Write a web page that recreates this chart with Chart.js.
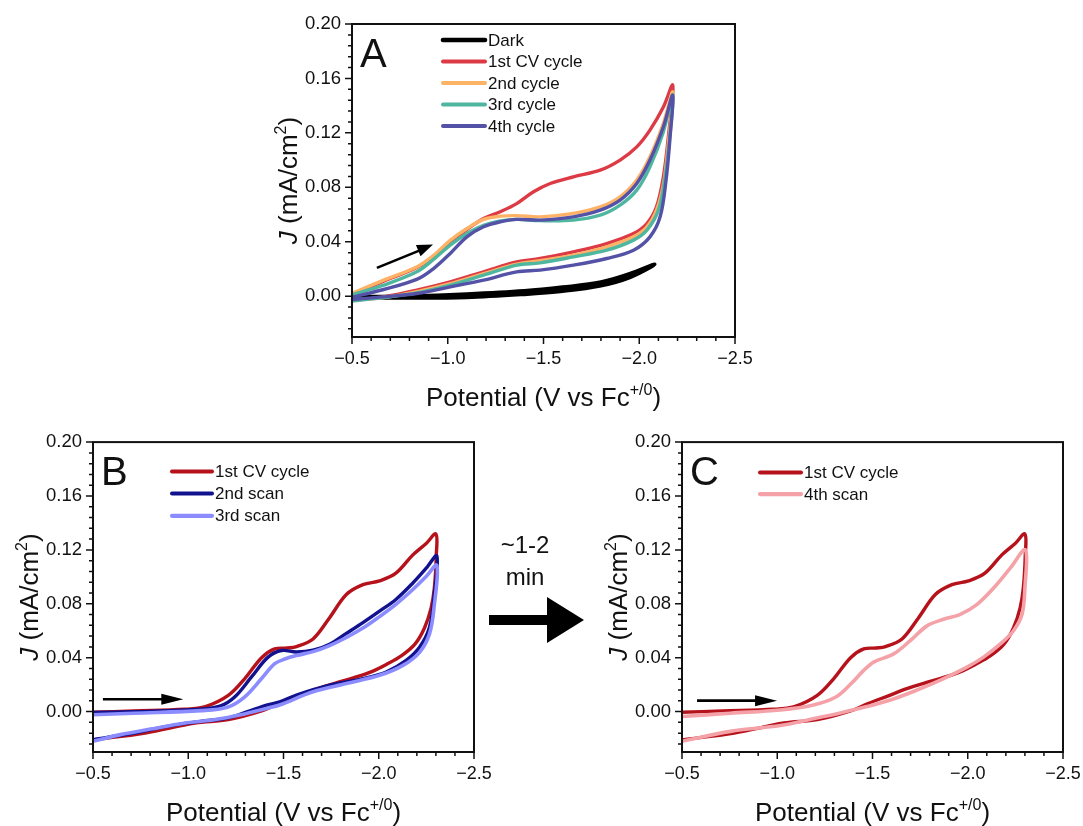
<!DOCTYPE html>
<html>
<head>
<meta charset="utf-8">
<script src="https://cdn.jsdelivr.net/npm/chart.js@4.4.1/dist/chart.umd.min.js"></script>
<style>
  body { margin: 0; background: #fff; width: 1083px; height: 826px; position: relative; overflow: hidden;
         font-family: "Liberation Sans", Arial, sans-serif; }
  canvas { position: absolute; }
  #note { position: absolute; left: 470px; top: 529px; width: 110px; text-align: center;
          font-size: 24px; line-height: 32px; color: #111; }
  #bigArrow { position: absolute; left: 0; top: 0; }
</style>
</head>
<body>
<canvas id="chartA" width="517" height="420" style="left:250px;top:0"></canvas>
<canvas id="chartB" width="506" height="406" style="left:0;top:420px"></canvas>
<canvas id="chartC" width="505" height="406" style="left:590px;top:420px"></canvas>
<div id="note">~1-2<br>min</div>
<svg id="bigArrow" width="1083" height="826"><polygon points="489,615 547,615 547,597 584,620 547,643 547,625 489,625" fill="#000"/></svg>

<script>
// ticks shared by the three panels
const xTicks = [-0.5, -1.0, -1.5, -2.0, -2.5];
const yTicks = [0.00, 0.04, 0.08, 0.12, 0.16, 0.20];

// ---- Panel A ----
const aDarkV = [-0.5, -0.8, -1.1, -1.4, -1.6, -1.8, -1.95, -2.08, -1.95, -1.8, -1.6, -1.4, -1.1, -0.8, -0.5];
const aDarkJ = [-0.0008, -0.0012, -0.0008, 0.0015, 0.0038, 0.0078, 0.0138, 0.0233, 0.0163, 0.0102, 0.0065, 0.0038, 0.0015, 0.0, -0.0006];

const aCyc1V = [-0.5, -0.665, -0.838, -0.926, -1.013, -1.1, -1.187, -1.274, -1.36, -1.448, -1.535, -1.656, -1.796, -1.9, -1.987, -2.056, -2.126, -2.175,
                -2.152, -2.126, -2.09, -2.04, -1.97, -1.83, -1.656, -1.4825, -1.36, -1.187, -1.013, -0.838, -0.665, -0.5];
const aCyc1J = [0.0015, 0.011, 0.021, 0.0295, 0.040, 0.049, 0.057, 0.062, 0.068, 0.0767, 0.0828, 0.0877, 0.0926, 0.100, 0.1097, 0.122, 0.139, 0.155,
                0.117, 0.0877, 0.0656, 0.0534, 0.046, 0.0387, 0.0326, 0.0277, 0.0252, 0.0179, 0.0105, 0.0044, -0.0005, -0.003];

const aCyc2V = [-0.5, -0.665, -0.838, -0.926, -1.013, -1.1, -1.187, -1.274, -1.36, -1.4825, -1.656, -1.796, -1.9, -1.987, -2.056, -2.126, -2.175,
                -2.152, -2.126, -2.09, -2.04, -1.97, -1.83, -1.656, -1.4825, -1.36, -1.187, -1.013, -0.838, -0.665, -0.5];
const aCyc2J = [0.002, 0.0118, 0.0215, 0.030, 0.041, 0.0497, 0.0564, 0.0588, 0.0592, 0.0583, 0.0608, 0.0656, 0.073, 0.0853, 0.1024, 0.127, 0.150,
                0.112, 0.082, 0.0632, 0.0509, 0.0436, 0.0363, 0.0301, 0.026, 0.0235, 0.0165, 0.0092, 0.0034, -0.001, -0.003];

const aCyc3V = [-0.5, -0.665, -0.838, -0.926, -1.013, -1.1, -1.187, -1.274, -1.36, -1.4825, -1.656, -1.796, -1.9, -1.987, -2.056, -2.126, -2.175,
                -2.161, -2.135, -2.1, -2.04, -1.97, -1.83, -1.656, -1.4825, -1.36, -1.187, -1.013, -0.838, -0.665, -0.5];
const aCyc3J = [0.001, 0.0081, 0.0179, 0.027, 0.0375, 0.046, 0.052, 0.0553, 0.0564, 0.0555, 0.0559, 0.0595, 0.0669, 0.0779, 0.095, 0.1208, 0.148,
                0.1195, 0.0877, 0.0632, 0.0485, 0.0412, 0.0338, 0.0289, 0.0245, 0.0228, 0.0154, 0.0081, 0.0024, -0.001, -0.0035];

const aCyc4V = [-0.5, -0.665, -0.838, -0.926, -1.013, -1.1, -1.187, -1.274, -1.36, -1.4825, -1.656, -1.796, -1.9, -1.987, -2.056, -2.126, -2.175,
                -2.161, -2.14, -2.109, -2.056, -1.97, -1.83, -1.656, -1.4825, -1.36, -1.187, -1.013, -0.838, -0.665, -0.5];
const aCyc4J = [-0.0008, 0.0049, 0.0123, 0.0203, 0.0314, 0.0436, 0.051, 0.0546, 0.0564, 0.0559, 0.0583, 0.0632, 0.0706, 0.0828, 0.100, 0.1245, 0.1477,
                0.117, 0.0853, 0.0583, 0.0436, 0.0338, 0.0277, 0.0228, 0.0191, 0.0179, 0.0118, 0.0068, 0.002, -0.0005, -0.0024];

// ---- Panels B and C (1st CV cycle is the same scan in both) ----
const firstV = [-0.5, -0.714, -0.98, -1.09, -1.21, -1.297, -1.385, -1.454, -1.52, -1.568, -1.655, -1.742, -1.83, -1.917, -2.004, -2.09, -2.179, -2.249, -2.30,
                -2.302, -2.292, -2.275, -2.24, -2.19, -2.12, -2.04, -1.96, -1.87, -1.78, -1.68, -1.58, -1.48, -1.385, -1.21, -1.036, -0.774, -0.5];
const firstJ = [-0.0005, 0.0005, 0.0017, 0.0037, 0.012, 0.0245, 0.040, 0.0465, 0.0472, 0.0482, 0.0539, 0.0697, 0.0869, 0.0942, 0.097, 0.1027, 0.1163, 0.1248, 0.1318,
                0.116, 0.092, 0.077, 0.062, 0.050, 0.0415, 0.035, 0.0295, 0.0252, 0.0215, 0.017, 0.0115, 0.0062, 0.0005, -0.006, -0.0085, -0.0159, -0.021];

const bScan2V = [-0.5, -0.714, -1.065, -1.17, -1.245, -1.332, -1.419, -1.49, -1.568, -1.655, -1.742, -1.83, -1.917, -2.004, -2.09, -2.179, -2.249, -2.305,
                 -2.29, -2.266, -2.214, -2.144, -2.039, -1.917, -1.742, -1.568, -1.48, -1.416, -1.311, -1.205, -1.065, -0.889, -0.714, -0.5];
const bScan2J = [-0.0007, 0.0, 0.0017, 0.0042, 0.011, 0.0257, 0.0404, 0.0453, 0.0442, 0.0455, 0.050, 0.058, 0.066, 0.0745, 0.0832, 0.0954, 0.1064, 0.1155,
                 0.085, 0.0624, 0.0477, 0.038, 0.0294, 0.0245, 0.0196, 0.0123, 0.0073, 0.0049, 0.0, -0.0049, -0.0073, -0.011, -0.0159, -0.0208];

const bScan3V = [-0.5, -0.714, -1.065, -1.205, -1.297, -1.385, -1.454, -1.507, -1.568, -1.655, -1.742, -1.83, -1.917, -2.004, -2.09, -2.179, -2.249, -2.305,
                 -2.29, -2.266, -2.214, -2.127, -2.004, -1.83, -1.655, -1.48, -1.416, -1.275, -1.135, -0.977, -0.802, -0.644, -0.5];
const bScan3J = [-0.0024, -0.0012, 0.0007, 0.0032, 0.011, 0.0245, 0.0355, 0.039, 0.0416, 0.0445, 0.049, 0.055, 0.062, 0.0705, 0.0796, 0.0906, 0.1003, 0.1085,
                 0.077, 0.0575, 0.044, 0.0343, 0.0269, 0.0208, 0.0147, 0.0049, 0.0025, -0.0024, -0.0061, -0.0086, -0.013, -0.0171, -0.022];

const cScan4V = [-0.5, -0.754, -1.016, -1.19, -1.31, -1.39, -1.45, -1.506, -1.611, -1.698, -1.786, -1.873, -1.961, -2.049, -2.136, -2.223, -2.302,
                 -2.30, -2.285, -2.24, -2.171, -2.083, -1.996, -1.856, -1.734, -1.594, -1.471, -1.331, -1.2, -1.016, -0.754, -0.5];
const cScan4J = [-0.0037, -0.0012, 0.0012, 0.0049, 0.011, 0.021, 0.030, 0.0367, 0.0428, 0.0526, 0.0636, 0.0685, 0.0722, 0.0796, 0.0917, 0.1064, 0.12,
                 0.0917, 0.0722, 0.06, 0.0502, 0.0404, 0.033, 0.0233, 0.016, 0.0086, 0.0037, -0.001, -0.005, -0.0103, -0.0147, -0.022];

const FONT = '"Liberation Sans", Arial, sans-serif';

function pts(vs, js) {
    return vs.map((v, i) => ({ x: v, y: js[i] }));
}

function series(label, vs, js, color, width) {
    return {
        label: label,
        data: pts(vs, js),
        borderColor: color,
        backgroundColor: color,
        borderWidth: width || 3.4,
        pointRadius: 0,
        showLine: true,
        tension: 0.35,
        fill: false
    };
}

// draw text with superscripts / italics, centred on x
function drawRich(ctx, parts, x, y, size) {
    let w = 0;
    parts.forEach(p => {
        ctx.font = (p.it ? 'italic ' : '') + Math.round(p.sup ? size * 0.62 : size) + 'px ' + FONT;
        p.w = ctx.measureText(p.t).width;
        w += p.w;
    });
    let cx = x - w / 2;
    parts.forEach(p => {
        ctx.font = (p.it ? 'italic ' : '') + Math.round(p.sup ? size * 0.62 : size) + 'px ' + FONT;
        ctx.fillText(p.t, cx, p.sup ? y - size * 0.42 : y);
        cx += p.w;
    });
}

function drawArrow(ctx, x1, y1, x2, y2, headLen, headHalf, lw) {
    const ang = Math.atan2(y2 - y1, x2 - x1);
    const bx = x2 - headLen * Math.cos(ang), by = y2 - headLen * Math.sin(ang);
    ctx.lineWidth = lw;
    ctx.beginPath();
    ctx.moveTo(x1, y1);
    ctx.lineTo(bx + 1, by);
    ctx.stroke();
    ctx.beginPath();
    ctx.moveTo(x2, y2);
    ctx.lineTo(bx + headHalf * Math.sin(ang), by - headHalf * Math.cos(ang));
    ctx.lineTo(bx - headHalf * Math.sin(ang), by + headHalf * Math.cos(ang));
    ctx.closePath();
    ctx.fill();
}

const panelDecor = {
    id: 'panelDecor',
    afterDraw(chart, args, opts) {
        const ctx = chart.ctx, area = chart.chartArea;
        const xs = chart.scales.x, ys = chart.scales.y;
        ctx.save();
        ctx.strokeStyle = '#111';
        ctx.fillStyle = '#111';

        // frame
        ctx.lineWidth = 2;
        ctx.strokeRect(area.left, area.top, area.right - area.left, area.bottom - area.top);

        // major and minor ticks, outward
        ctx.lineWidth = 1.5;
        ctx.beginPath();
        for (let i = 0; i <= 20; i++) {
            const px = xs.getPixelForValue(-0.5 - i * 0.1);
            const len = i % 5 === 0 ? 7 : 4;
            ctx.moveTo(px, area.bottom);
            ctx.lineTo(px, area.bottom + len);
        }
        for (let i = -3; i <= 25; i++) {
            const py = ys.getPixelForValue(i * 0.008);
            const len = i % 5 === 0 ? 7 : 4;
            ctx.moveTo(area.left, py);
            ctx.lineTo(area.left - len, py);
        }
        ctx.stroke();

        // axis titles
        ctx.textBaseline = 'alphabetic';
        drawRich(ctx, [{ t: 'Potential (V vs Fc' }, { t: '+/0', sup: true }, { t: ')' }],
            (area.left + area.right) / 2, area.bottom + 69, 26);
        ctx.save();
        ctx.translate(area.left - 55, (area.top + area.bottom) / 2);
        ctx.rotate(-Math.PI / 2);
        drawRich(ctx, [{ t: 'J', it: true }, { t: ' (mA/cm' }, { t: '2', sup: true }, { t: ')' }], 0, 0, 26);
        ctx.restore();

        // panel letter
        ctx.font = '40px ' + FONT;
        ctx.fillText(opts.letter, area.left + 8, area.top + 43);

        // legend
        const lg = opts.legend;
        ctx.font = '17px ' + FONT;
        ctx.textBaseline = 'middle';
        chart.data.datasets.forEach((ds, i) => {
            const y = area.top + lg.dy + i * lg.gap;
            const x = area.left + lg.dx;
            ctx.strokeStyle = ds.borderColor;
            ctx.lineWidth = ds.borderWidth + 0.6;
            ctx.lineCap = 'round';
            ctx.beginPath();
            ctx.moveTo(x, y);
            ctx.lineTo(x + lg.len, y);
            ctx.stroke();
            ctx.fillStyle = '#111';
            ctx.fillText(ds.label, x + lg.len + 3, y + 1);
        });
        ctx.lineCap = 'butt';

        // scan direction arrow, given in data units
        const a = opts.arrow;
        ctx.strokeStyle = '#000';
        ctx.fillStyle = '#000';
        drawArrow(ctx, xs.getPixelForValue(a.from[0]), ys.getPixelForValue(a.from[1]),
            xs.getPixelForValue(a.to[0]), ys.getPixelForValue(a.to[1]), a.head, a.half, 2.6);
        ctx.restore();
    }
};

function makeChart(id, datasets, cfg) {
    return new Chart(document.getElementById(id), {
        type: 'scatter',
        data: { datasets: datasets },
        plugins: [panelDecor],
        options: {
            responsive: false,
            animation: false,
            events: [],
            layout: { padding: { top: cfg.padTop, right: 32, left: 0, bottom: 0 } },
            scales: {
                x: {
                    type: 'linear', min: -2.5, max: -0.5, reverse: true,
                    afterBuildTicks: s => { s.ticks = xTicks.map(v => ({ value: v })); },
                    afterFit: s => { s.height = cfg.xH; },
                    grid: { display: false, drawTicks: false, tickLength: 0 },
                    border: { display: false },
                    ticks: {
                        autoSkip: false, maxRotation: 0, padding: 11, color: '#111',
                        font: { family: FONT, size: 18 },
                        callback: v => v.toFixed(1).replace('-', '\u2212')
                    }
                },
                y: {
                    type: 'linear', min: -0.03, max: 0.2,
                    afterBuildTicks: s => { s.ticks = yTicks.map(v => ({ value: v })); },
                    afterFit: s => { s.width = cfg.yW; },
                    grid: { display: false, drawTicks: false, tickLength: 0 },
                    border: { display: false },
                    ticks: {
                        padding: 11, color: '#111',
                        font: { family: FONT, size: 18.5 },
                        callback: v => v.toFixed(2)
                    }
                }
            },
            plugins: {
                legend: { display: false },
                tooltip: { enabled: false },
                panelDecor: { letter: cfg.letter, legend: cfg.legend, arrow: cfg.arrow }
            }
        }
    });
}

// later datasets are drawn on top
function stack(list) {
    list.forEach((d, i) => { d.order = list.length - i; });
    return list;
}

makeChart('chartA', stack([
    series('Dark', aDarkV, aDarkJ, '#000000', 4),
    series('1st CV cycle', aCyc1V, aCyc1J, '#dc3a44'),
    series('2nd cycle', aCyc2V, aCyc2J, '#fdb266'),
    series('3rd cycle', aCyc3V, aCyc3J, '#4fb6a0'),
    series('4th cycle', aCyc4V, aCyc4J, '#5452a6')
]), {
    letter: 'A', padTop: 24, yW: 102, xH: 83,
    legend: { dx: 91, dy: 16, gap: 21.5, len: 42 },
    arrow: { from: [-0.63, 0.0208], to: [-0.923, 0.038], head: 16, half: 6 }
});

makeChart('chartB', stack([
    series('1st CV cycle', firstV, firstJ, '#b5121b'),
    series('2nd scan', bScan2V, bScan2J, '#12128f'),
    series('3rd scan', bScan3V, bScan3J, '#8a8cff', 3.6)
]), {
    letter: 'B', padTop: 19, yW: 93, xH: 74,
    legend: { dx: 79, dy: 29.3, gap: 22.2, len: 40 },
    arrow: { from: [-0.552, 0.0091], to: [-0.974, 0.0091], head: 22, half: 5.5 }
});

makeChart('chartC', stack([
    series('1st CV cycle', firstV, firstJ, '#b5121b'),
    series('4th scan', cScan4V, cScan4J, '#f4a2a8', 3.6)
]), {
    letter: 'C', padTop: 19, yW: 92, xH: 74,
    legend: { dx: 78, dy: 30.3, gap: 21.7, len: 41 },
    arrow: { from: [-0.579, 0.0081], to: [-0.999, 0.0081], head: 22, half: 5.5 }
});
</script>
</body>
</html>
